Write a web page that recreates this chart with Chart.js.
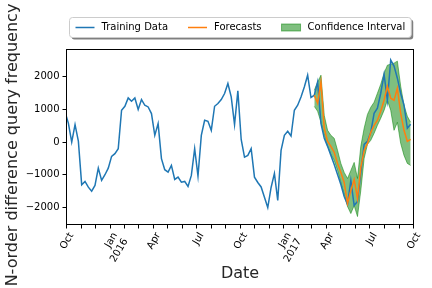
<!DOCTYPE html>
<html>
<head>
<meta charset="utf-8">
<script src="https://cdn.jsdelivr.net/npm/chart.js@4.4.1/dist/chart.umd.min.js"></script>
<style>
  html, body { margin: 0; padding: 0; background: #fff; }
  #wrap { width: 432px; height: 288px; }
</style>
</head>
<body>
<div id="wrap"><canvas id="chart"></canvas></div>
<script>
// weekly series, first week 2015-09-28 (3 days before the Oct 2015 axis start)
const firstDay = -3;
const trainingValues = [
  923, 575, 0, 535, 30, -1311, -1209, -1385, -1508, -1332,
  -800, -1178, -1003, -800, -440, -357, -203, 975, 1098, 1354,
  1252, 1354, 997, 1305, 1129, 1077, 874, 206, 566, -508,
  -849, -923, -717, -1148, -1077, -1231, -1209, -1363, -1025, -203,
  -1046, 206, 668, 637, 360, 1098, 1182, 1305, 1489, 1797,
  1385, 535, 1569, 80, -462, -409, -203, -1077, -1240, -1378,
  -1692, -2009, -1394, -963, -1794, -255, 206, 329, 185, 975,
  1129, 1385, 1692, 2052, 1366, 1437, 1846, 575, 114, -132,
  -409, -686, -994, -1302, -1671, -1917, -1178, -1948, -1825, -932,
  -71, 22, 298, 883, 1037, 1498, 2083, 1283, 2514, 2329,
  1960, 1498, 1129, 422, 545
];

// forecast starts at week 75
const forecastStart = 75;
const forecastValues = [
  1437, 1191, 1846, 422, 22, -132, -317, -655, -932, -1240,
  -1886, -1486, -1148, -1732, -778, -255, -40, 298, 514, 668,
  945, 1283, 1714, 1345, 1283, 1652, 883, 360, 22, 83
];
const upperValues = [
  1590, 1837, 2052, 818, 360, 206, 114, -255, -655, -932,
  -1117, -871, -625, -1117, -132, 422, 849, 1068, 1222, 1498,
  1775, 2114, 2360, 2391, 2421, 2483, 1714, 1129, 791, 607
];
const lowerValues = [
  1095, 945, 615, 206, -132, -378, -563, -871, -1240, -1609,
  -1978, -2194, -1948, -2286, -1486, -502, -71, 52, 268, 514,
  730, 972, 1283, 972, 360, 606, -40, -409, -655, -717
];

const yTicks = [-2000, -1000, 0, 1000, 2000];
const quarterLabels = ['Oct', ['Jan', '2016'], 'Apr', 'Jul', 'Oct', ['Jan', '2017'], 'Apr', 'Jul', 'Oct'];
const yTitle = 'N-order difference query frequency';

// day offsets of each month start from 2015-10-01
const origin = Date.UTC(2015, 9, 1);
const monthDays = [];
for (let m = 0; m <= 24; m++) {
  monthDays.push((Date.UTC(2015, 9 + m, 1) - origin) / 86400000);
}
const weekDays = trainingValues.map((v, i) => firstDay + 7 * i);

const training = trainingValues.map((v, i) => ({ x: weekDays[i], y: v }));
const forecast = forecastValues.map((v, i) => ({ x: weekDays[forecastStart + i], y: v }));
const upper = upperValues.map((v, i) => ({ x: weekDays[forecastStart + i], y: v }));
const lower = lowerValues.map((v, i) => ({ x: weekDays[forecastStart + i], y: v }));

const FONT = 'DejaVu Sans';
const green = 'rgba(0, 128, 0, 0.5)';

// box around the plot area
const frame = {
  id: 'frame',
  afterDraw(chart) {
    const { ctx, chartArea: a } = chart;
    ctx.save();
    ctx.strokeStyle = '#000';
    ctx.lineWidth = 1;
    ctx.strokeRect(a.left, a.top, a.right - a.left, a.bottom - a.top);
    ctx.restore();
  }
};

// y title sits a bit below the axes centre in the original figure
const sideTitle = {
  id: 'sideTitle',
  afterDraw(chart) {
    const ctx = chart.ctx;
    ctx.save();
    ctx.translate(13, 145);
    ctx.rotate(-Math.PI / 2);
    ctx.font = '16px "' + FONT + '"';
    ctx.fillStyle = '#262626';
    ctx.textAlign = 'center';
    ctx.textBaseline = 'middle';
    ctx.fillText(yTitle, 0, 0);
    ctx.restore();
  }
};

// matplotlib style legend with shadow
const legendBox = {
  id: 'legendBox',
  afterDraw(chart) {
    const ctx = chart.ctx;
    const items = chart.data.datasets.filter(d => d.legendKind);
    ctx.save();
    ctx.font = '10px "' + FONT + '"';
    const pad = 6, handle = 19, gap = 7, colGap = 20;
    const widths = items.map(d => handle + gap + ctx.measureText(d.label).width);
    const total = pad * 2 + widths.reduce((s, w) => s + w, 0) + colGap * (items.length - 1);
    const cx = (chart.chartArea.left + chart.chartArea.right) / 2;
    const left = Math.round(cx - total / 2) + 0.5;
    const top = 17.5, h = 20;

    ctx.fillStyle = 'rgba(0,0,0,0.5)';
    ctx.beginPath();
    ctx.roundRect(left + 2, top + 2, total, h, 3);
    ctx.fill();
    ctx.fillStyle = '#fff';
    ctx.strokeStyle = '#cccccc';
    ctx.lineWidth = 1;
    ctx.beginPath();
    ctx.roundRect(left, top, total, h, 3);
    ctx.fill();
    ctx.stroke();

    const midY = top + h / 2;
    let x = left + pad;
    items.forEach((d, i) => {
      if (d.legendKind === 'line') {
        ctx.strokeStyle = d.borderColor;
        ctx.lineWidth = 1.5;
        ctx.beginPath();
        ctx.moveTo(x, midY);
        ctx.lineTo(x + handle, midY);
        ctx.stroke();
      } else {
        ctx.fillStyle = green;
        ctx.strokeStyle = green;
        ctx.lineWidth = 1;
        ctx.fillRect(x, midY - 3.5, handle, 7);
        ctx.strokeRect(x, midY - 3.5, handle, 7);
      }
      ctx.fillStyle = '#000';
      ctx.textBaseline = 'middle';
      ctx.textAlign = 'left';
      ctx.fillText(d.label, x + handle + gap, midY);
      x += widths[i] + colGap;
    });
    ctx.restore();
  }
};

new Chart(document.getElementById('chart'), {
  type: 'line',
  data: {
    datasets: [
      {
        label: 'Training Data',
        legendKind: 'line',
        data: training,
        borderColor: '#1f77b4',
        borderWidth: 1.5,
        order: 1
      },
      {
        label: 'Forecasts',
        legendKind: 'line',
        data: forecast,
        borderColor: '#ff7f0e',
        borderWidth: 1.5,
        order: 0
      },
      {
        label: 'upper bound',
        data: upper,
        borderColor: green,
        borderWidth: 1,
        fill: false,
        order: 2
      },
      {
        label: 'Confidence Interval',
        legendKind: 'patch',
        data: lower,
        borderColor: green,
        backgroundColor: green,
        borderWidth: 1,
        fill: '-1',
        order: 3
      }
    ]
  },
  options: {
    responsive: true,
    maintainAspectRatio: false,
    animation: false,
    devicePixelRatio: 1,
    layout: { padding: { top: 49.5, right: 18.5, left: 0, bottom: 0 } },
    elements: {
      line: { tension: 0 },
      point: { radius: 0, hoverRadius: 0 }
    },
    plugins: {
      legend: { display: false },
      tooltip: { enabled: false }
    },
    scales: {
      x: {
        type: 'linear',
        min: 0,
        max: monthDays[monthDays.length - 1],
        afterBuildTicks: scale => {
          scale.ticks = monthDays.map(v => ({ value: v }));
        },
        afterFit: scale => { scale.height = 63.5; },
        border: { display: false },
        grid: { drawOnChartArea: false, tickLength: 4, tickColor: '#000' },
        ticks: {
          autoSkip: false,
          minRotation: 60,
          maxRotation: 60,
          padding: 2,
          labelOffset: 5,
          color: '#000',
          font: { family: FONT, size: 10 },
          callback: (value, index) => index % 3 === 0 ? quarterLabels[index / 3] : ''
        },
        title: {
          display: true,
          text: 'Date',
          color: '#262626',
          font: { family: FONT, size: 16 },
          padding: { top: 0, bottom: 5 }
        }
      },
      y: {
        min: -2530,
        max: 2840,
        afterBuildTicks: scale => {
          scale.ticks = yTicks.map(v => ({ value: v }));
        },
        afterFit: scale => { scale.width = 66.5; },
        border: { display: false },
        grid: { drawOnChartArea: false, tickLength: 4, tickColor: '#000' },
        ticks: {
          padding: 3,
          color: '#000',
          font: { family: FONT, size: 10 },
          callback: v => v < 0 ? '\u2212' + Math.abs(v) : String(v)
        }
      }
    }
  },
  plugins: [frame, sideTitle, legendBox]
});
</script>
</body>
</html>
